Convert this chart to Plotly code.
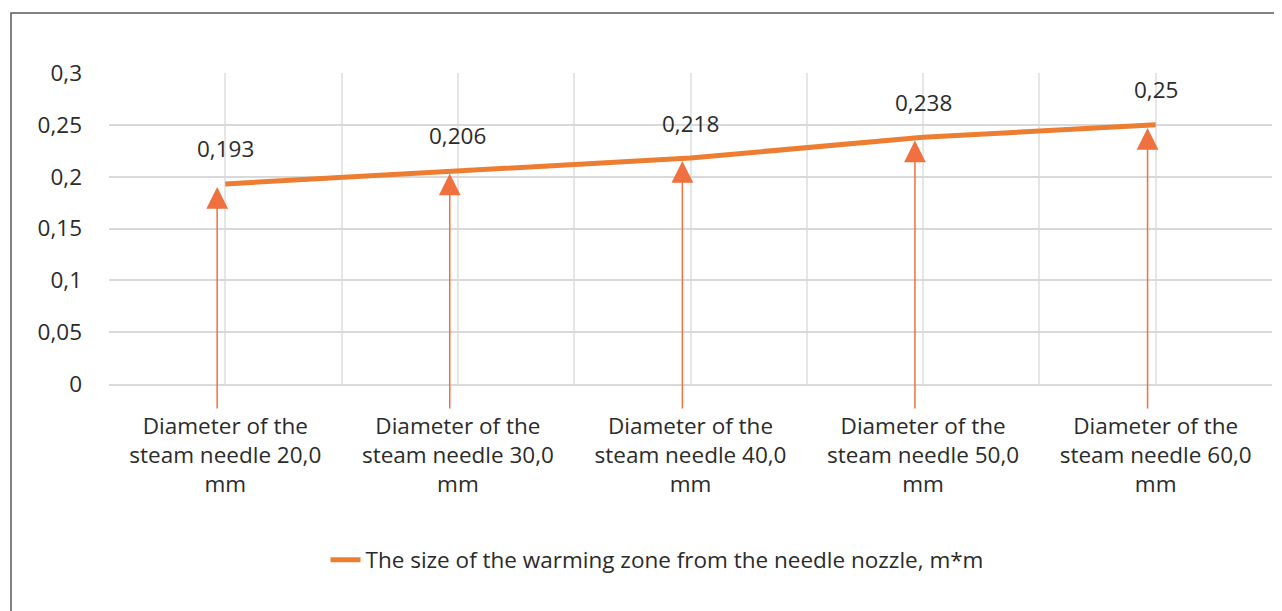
import plotly.graph_objects as go

categories = [
    "Diameter of the<br>steam needle 20,0<br>mm",
    "Diameter of the<br>steam needle 30,0<br>mm",
    "Diameter of the<br>steam needle 40,0<br>mm",
    "Diameter of the<br>steam needle 50,0<br>mm",
    "Diameter of the<br>steam needle 60,0<br>mm",
]
values = [0.193, 0.206, 0.218, 0.238, 0.25]
series_name = "The size of the warming zone from the needle nozzle, m*m"
y_ticks = [0, 0.05, 0.1, 0.15, 0.2, 0.25, 0.3]

# page body has an 8px margin; the figure is sized to end at the window edge
OFF = 8
W, H = 1282 - OFF, 611 - OFF
ML, MR, MT, MB = 109 - OFF, 10, 73 - OFF, 227
FONT = "Open Sans"
FS = 22.5
TXT = "#2B2B2B"
ORANGE = "#ED7D31"
ARROW = "#F0703F"

xs = list(range(len(categories)))

fig = go.Figure()
fig.add_trace(go.Scatter(
    x=xs, y=values, mode="lines", name=series_name,
    line=dict(color=ORANGE, width=5),
    hoverinfo="skip",
))

annotations = []
for x, v in zip(xs, values):
    annotations.append(dict(
        x=x, y=v, xref="x", yref="y", text=f"{v:g}".replace(".", ","),
        showarrow=False, yshift=35, font=dict(family=FONT, size=FS, color=TXT),
    ))
    annotations.append(dict(
        x=x - 0.035, y=v - 0.003, xref="x", yref="y",
        ax=x - 0.035, ay=-0.025, axref="x", ayref="y",
        text="", showarrow=True, arrowhead=2, arrowsize=2.9,
        arrowwidth=1.5, arrowcolor=ARROW,
    ))

pw = W - ML - MR
ph = H - MT - MB
def px2paper_x(px):
    return (px - OFF - ML) / pw
def px2paper_y(py):
    return (H - MB - (py - OFF)) / ph

fig.update_layout(
    width=W, height=H,
    margin=dict(l=ML, r=MR, t=MT, b=MB),
    paper_bgcolor="white", plot_bgcolor="white",
    separators=", ",
    font=dict(family=FONT, size=FS, color=TXT),
    showlegend=True,
    legend=dict(
        orientation="h", x=px2paper_x(657), xanchor="center",
        y=px2paper_y(560), yanchor="middle",
        font=dict(family=FONT, size=FS, color=TXT),
        bgcolor="rgba(0,0,0,0)",
    ),
    annotations=annotations,
    shapes=[dict(
        type="rect", xref="paper", yref="paper",
        x0=px2paper_x(11), x1=px2paper_x(1400),
        y0=px2paper_y(700), y1=px2paper_y(13),
        line=dict(color="#595959", width=1.5), layer="below",
    )],
)

fig.update_xaxes(
    range=[-0.5, len(categories) - 0.5],
    tickmode="array", tickvals=xs, ticktext=categories,
    showgrid=True, gridcolor="#E6E6E6", gridwidth=1.5,
    minor=dict(tickmode="array", tickvals=[i - 0.5 for i in range(len(categories) + 1)],
               showgrid=True, gridcolor="#E6E6E6", gridwidth=1.5),
    showline=True, linecolor="#D9D9D9", linewidth=1.5,
    ticks="", tickfont=dict(family=FONT, size=FS, color=TXT),
    ticklabelstandoff=21, zeroline=False, fixedrange=True,
)
fig.update_yaxes(
    range=[0, 0.3], tickmode="array", tickvals=y_ticks,
    ticktext=[f"{t:g}".replace(".", ",") for t in y_ticks],
    showgrid=True, gridcolor="#D9D9D9", gridwidth=1.5,
    zeroline=False, showline=False, ticks="",
    tickfont=dict(family=FONT, size=FS, color=TXT),
    ticklabelstandoff=26, fixedrange=True,
)

fig.write_html("out.html")
